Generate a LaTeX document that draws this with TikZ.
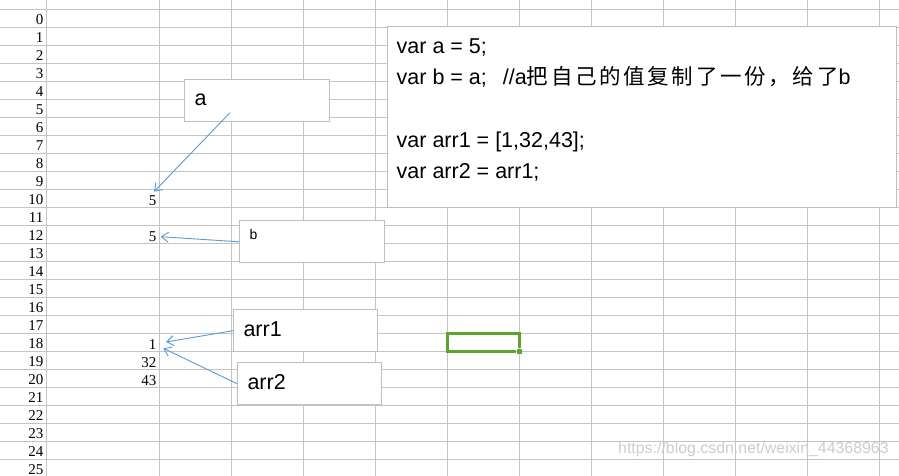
\documentclass[tikz,border=0pt]{standalone}
\usepackage{fontspec}
\setmainfont{Liberation Sans}
\newfontfamily\cjk{Noto Sans CJK SC}[LetterSpace=12.5]
\newfontfamily\serifdigits{Liberation Serif}
\usetikzlibrary{arrows.meta}
\definecolor{gridc}{RGB}{196,196,196}
\definecolor{boxc}{RGB}{191,191,191}
\definecolor{arrc}{RGB}{91,155,213}
\definecolor{selc}{RGB}{94,163,48}
\definecolor{wmc}{RGB}{205,205,205}
\begin{document}
\begin{tikzpicture}[x=1pt,y=-1pt,
  gridline/.style={draw=gridc,line width=1pt},
  panel/.style={draw=boxc,fill=white,line width=1pt,inner sep=0pt,rectangle,anchor=north west},
  big/.style={font=\fontsize{21.5}{25}\selectfont,inner sep=0pt,anchor=base west},
  cellnum/.style={font=\serifdigits\fontsize{15}{18}\selectfont,inner sep=0pt,anchor=base east},
  ptr/.style={draw=arrc,line width=0.9pt,-{Straight Barb[length=7pt,width=10pt,line width=0.9pt]}},
]
\useasboundingbox (0,0) rectangle (899,476);
\fill[white] (0,0) rectangle (899,476);
% grid
\draw[gridline] (46,0) -- (46,476);
\foreach \x in {159,231,...,879} \draw[gridline] (\x,0) -- (\x,476);
\foreach \k in {0,...,25} \draw[gridline] (0,9.3+18*\k) -- (899,9.3+18*\k);
% row numbers
\foreach \k in {0,...,25} \node[cellnum] (r\k) at (43.5,24.8+18*\k) {\k};
% cell values
\node[cellnum] (v10) at (156.5,205) {5};
\node[cellnum] (v12) at (156.5,241) {5};
\node[cellnum] (v18) at (156.5,349) {1};
\node[cellnum] (v19) at (156.5,367) {32};
\node[cellnum] (v20) at (156.5,385) {43};
% boxes
\node[panel,minimum width=144.4pt,minimum height=42pt] (boxa) at (184.3,79.3) {};
\node[panel,minimum width=145pt,minimum height=42pt] (boxb) at (239.3,220.3) {};
\node[panel,minimum width=144pt,minimum height=41.7pt] (boxarr1) at (233.3,309.3) {};
\node[panel,minimum width=144.3pt,minimum height=42.3pt] (boxarr2) at (237,362) {};
\node[panel,minimum width=508.4pt,minimum height=181.3pt] (code) at (387.3,26) {};
% box texts
\node[big] (ta) at (194.3,106) {a};
\node[font=\fontsize{14}{16}\selectfont,inner sep=0pt,anchor=base west] (tb) at (249.3,239.3) {b};
\node[big] (tarr1) at (243.3,336.7) {arr1};
\node[big] (tarr2) at (247.3,389.3) {arr2};
\node[big] (c1) at (396.5,53.5) {var a = 5;};
\node[big] (c2) at (396.5,84.7) {var b = a;\hspace{16pt}//a{\cjk 把自己的值复制了一份，给了}b};
\node[big] (c4) at (396.5,147.1) {var arr1 = [1,32,43];};
\node[big] (c5) at (396.5,178.3) {var arr2 = arr1;};
% arrows
\coordinate (pa) at (230,112.7);
\coordinate (ha) at (154,191.7);
\coordinate (hb) at (160.7,236.7);
\coordinate (h1) at (166,342);
\coordinate (h2) at (163.3,348.3);
\draw[ptr] (pa) -- (ha);
\draw[ptr] (boxb.west) -- (hb);
\draw[ptr] (boxarr1.west) -- (h1);
\draw[ptr] (boxarr2.west) -- (h2);
% selected cell
\draw[selc,line width=3pt] (516,351.2) -- (447.5,351.2) -- (447.5,333.5) -- (519.3,333.5) -- (519.3,347.5);
\fill[selc] (516.7,348.7) rectangle (522,353.7);
% watermark
\node[font=\fontsize{15.9}{18}\selectfont,text=wmc,inner sep=0pt,anchor=base west] (wm) at (618,453) {https://blog.csdn.net/weixin\_44368963};
\end{tikzpicture}
\end{document}
